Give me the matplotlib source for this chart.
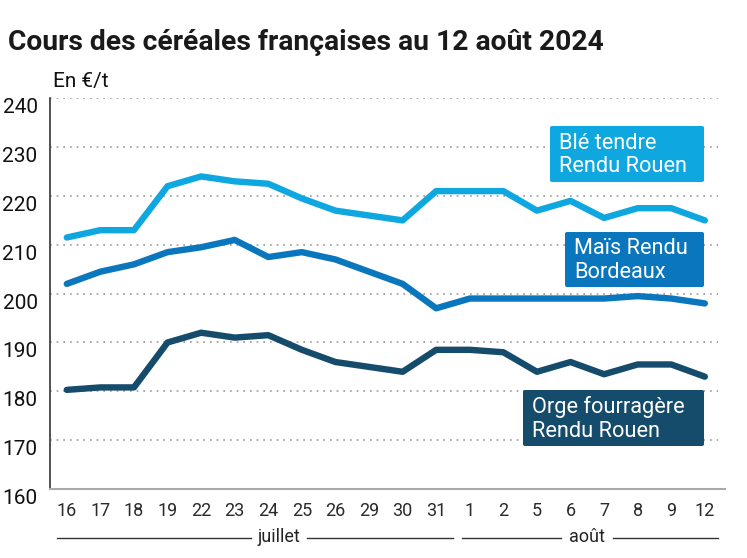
import matplotlib
matplotlib.use("Agg")
import matplotlib.pyplot as plt
from matplotlib.patches import FancyBboxPatch
from matplotlib.lines import Line2D

plt.rcParams['font.family'] = ['Roboto', 'DejaVu Sans']

days = ["16", "17", "18", "19", "22", "23", "24", "25", "26", "29", "30", "31",
        "1", "2", "5", "6", "7", "8", "9", "12"]
ble = [211.5, 213, 213, 222, 224, 223, 222.5, 219.5, 217, 216, 215, 221,
       221, 221, 217, 219, 215.5, 217.5, 217.5, 215]
mais = [202, 204.5, 206, 208.5, 209.5, 211, 207.5, 208.5, 207, 204.5, 202, 197,
        199, 199, 199, 199, 199, 199.5, 199, 198]
orge = [180.3, 180.8, 180.8, 190, 192, 191, 191.5, 188.5, 186, 185, 184, 188.5,
        188.5, 188, 184, 186, 183.5, 185.5, 185.5, 183]
series_names = ["Blé tendre\nRendu Rouen", "Maïs Rendu\nBordeaux", "Orge fourragère\nRendu Rouen"]
colors = ["#0ea7e0", "#0a76bd", "#154b6b"]
yticks = [160, 170, 180, 190, 200, 210, 220, 230, 240]
months = ["juillet", "août"]

W, H = 747, 558
fig = plt.figure(figsize=(W / 100, H / 100), dpi=100)
ax = fig.add_axes([50 / W, 1 - 489 / H, 675 / W, (489 - 98.3) / H])

x = list(range(len(days)))
for vals, c in zip([ble, mais, orge], colors):
    ax.plot(x, vals, color=c, lw=4.6, solid_capstyle='round', solid_joinstyle='round', zorder=3)

ax.set_xlim(-0.5, 19.6)
ax.set_ylim(160, 240)
ax.set_yticks(yticks)
ax.set_yticklabels([str(v) for v in yticks], fontsize=15, color="#111111")
ax.set_xticks(x)
ax.set_xticklabels(days, fontsize=13, color="#2a2a2a")
ax.tick_params(axis='both', length=0)
ax.tick_params(axis='y', pad=9)
ax.tick_params(axis='x', pad=9)
for lab in ax.get_yticklabels():
    lab.set_verticalalignment('top')

for v in yticks[1:]:
    ax.axhline(v, color="#999999", lw=1.2, ls=(0, (1, 3)), zorder=1, xmax=0.99)

for s in ['top', 'right']:
    ax.spines[s].set_visible(False)
ax.spines['left'].set_color("#333333")
ax.spines['left'].set_linewidth(1.2)
ax.spines['bottom'].set_color("#aaaaaa")
ax.spines['bottom'].set_linewidth(1.5)

# series labels (boxes)
box_pos = [(550, 126, 704, 182), (565, 232, 704, 287), (523, 390, 704, 446)]
for name, c, (x0, y0, x1, y1) in zip(series_names, colors, box_pos):
    fig.patches.append(FancyBboxPatch((x0 / W, 1 - y1 / H), (x1 - x0) / W, (y1 - y0) / H,
                                      boxstyle="round,pad=0,rounding_size=0.003",
                                      transform=fig.transFigure, facecolor=c, edgecolor='none', zorder=5))
    fig.text((x0 + 9) / W, 1 - ((y0 + y1) / 2 + 1) / H, name, color="white", fontsize=15.7,
             ha='left', va='center', linespacing=1.14, zorder=6)

# title and unit
fig.text(8 / W, 1 - 42 / H, "Cours des céréales françaises au 12 août 2024",
         fontsize=20.3, fontweight='bold', color="#1a1a1a", ha='left', va='center')
fig.text(53 / W, 1 - 82 / H, "En €/t", fontsize=15, color="#111111", ha='left', va='center')

# month brackets
yb = 1 - 538 / H
brackets = [(57, 453, 279, months[0]), (462, 718, 587, months[1])]
for x0, x1, xc, lab in brackets:
    fig.text(xc / W, yb + 1.5 / H, lab, fontsize=13, color="#222222", ha='center', va='center')
    half = 28 if lab == "juillet" else 26
    fig.add_artist(Line2D([x0 / W, (xc - half) / W], [yb, yb], color="#333333", lw=1))
    fig.add_artist(Line2D([(xc + half) / W, x1 / W], [yb, yb], color="#333333", lw=1))

fig.savefig("out.png", dpi=100)
